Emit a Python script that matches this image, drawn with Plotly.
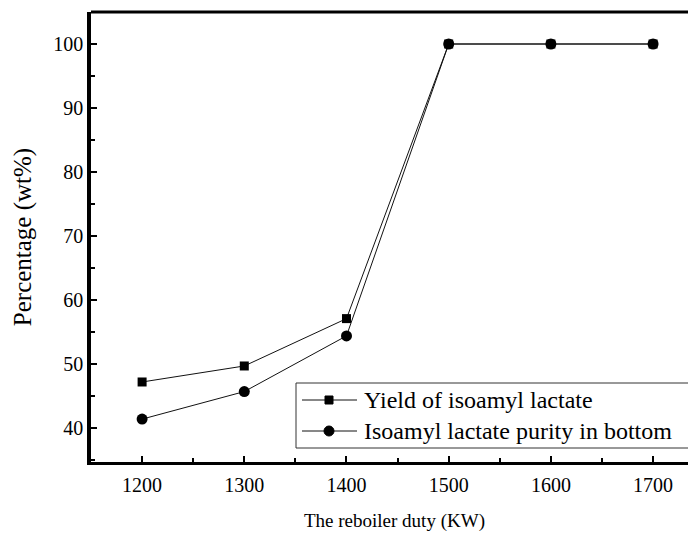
import plotly.graph_objects as go

duty = [1200, 1300, 1400, 1500, 1600, 1700]
yield_vals = [47.2, 49.7, 57.1, 100.0, 100.0, 100.0]
purity_vals = [41.4, 45.7, 54.4, 100.0, 100.0, 100.0]
series_names = ["Yield of isoamyl lactate", "Isoamyl lactate purity in bottom"]
x_title = "The reboiler duty (KW)"
y_title = "Percentage (wt%)"

x_ticks = [1200, 1300, 1400, 1500, 1600, 1700]
y_ticks = [40, 50, 60, 70, 80, 90, 100]

FONT = "Liberation Serif, Times New Roman, serif"
W, H = 696, 536
# the page adds an 8px body offset; positions below are in page pixels
OFF = 8
ML, MR, MT, MB = 91 - OFF, OFF, 12 - OFF, H - (462 - OFF)
PW, PH = W - ML - MR, H - MT - MB


def px(xp):
    return (xp - OFF - ML) / PW


def py(yp):
    return (H - MB - (yp - OFF)) / PH


fig = go.Figure()
fig.add_trace(go.Scatter(
    x=duty, y=yield_vals, mode="lines+markers", name=series_names[0],
    line=dict(color="#111", width=1),
    marker=dict(symbol="square", size=9, color="black"),
    showlegend=False,
))
fig.add_trace(go.Scatter(
    x=duty, y=purity_vals, mode="lines+markers", name=series_names[1],
    line=dict(color="#111", width=1),
    marker=dict(symbol="circle", size=11, color="black"),
    showlegend=False,
))

axis_common = dict(
    showline=True, linecolor="black",
    ticks="inside", ticklen=6, tickwidth=2, tickcolor="black",
    showgrid=False, zeroline=False, automargin=False,
    tickfont=dict(family=FONT, size=20, color="black"),
)

fig.update_xaxes(
    range=[1150, 1742], tickvals=x_ticks, linewidth=3,
    minor=dict(ticks="inside", ticklen=4, tickwidth=2, tickcolor="black", dtick=50, tick0=1150),
    ticklabelstandoff=3,
    **axis_common,
)
fig.update_yaxes(
    range=[34.7, 105], tickvals=y_ticks, linewidth=3.5,
    minor=dict(ticks="inside", ticklen=4, tickwidth=2, tickcolor="black", dtick=5, tick0=35),
    title=dict(text=y_title, font=dict(family=FONT, size=25, color="black"), standoff=16),
    **axis_common,
)

# x axis title
fig.add_annotation(xref="paper", yref="paper", x=px(394), y=py(521),
                   xanchor="center", yanchor="middle", showarrow=False,
                   text=x_title, font=dict(family=FONT, size=19, color="black"))

# top frame line (the right frame edge lies outside the picture)
fig.add_shape(type="line", xref="paper", yref="paper", x0=0, x1=1.05, y0=1, y1=1,
              line=dict(color="black", width=3))

# legend box drawn as decoration
fig.add_shape(type="rect", xref="paper", yref="paper",
              x0=px(296), x1=px(690), y0=py(448), y1=py(383),
              line=dict(color="#333", width=1), fillcolor="white", layer="above")
rows = [400, 431]
symbols = ["square", "circle"]
for name, row, sym in zip(series_names, rows, symbols):
    fig.add_shape(type="line", xref="paper", yref="paper",
                  x0=px(302), x1=px(357), y0=py(row), y1=py(row),
                  line=dict(color="#111", width=1), layer="above")
    if sym == "square":
        fig.add_shape(type="rect", xref="paper", yref="paper",
                      x0=px(325), x1=px(333), y0=py(row + 4), y1=py(row - 4),
                      line=dict(color="black", width=1), fillcolor="black", layer="above")
    else:
        fig.add_shape(type="circle", xref="paper", yref="paper",
                      x0=px(324), x1=px(334), y0=py(row + 5), y1=py(row - 5),
                      line=dict(color="black", width=1), fillcolor="black", layer="above")
    fig.add_annotation(xref="paper", yref="paper", x=px(362), y=py(row),
                       xanchor="left", yanchor="middle", showarrow=False,
                       text=name, font=dict(family=FONT, size=24, color="black"))

fig.update_layout(
    width=W, height=H,
    margin=dict(l=ML, r=MR, t=MT, b=MB),
    paper_bgcolor="white", plot_bgcolor="white",
    font=dict(family=FONT, color="black"),
    showlegend=False,
)

fig.write_html("out.html")
